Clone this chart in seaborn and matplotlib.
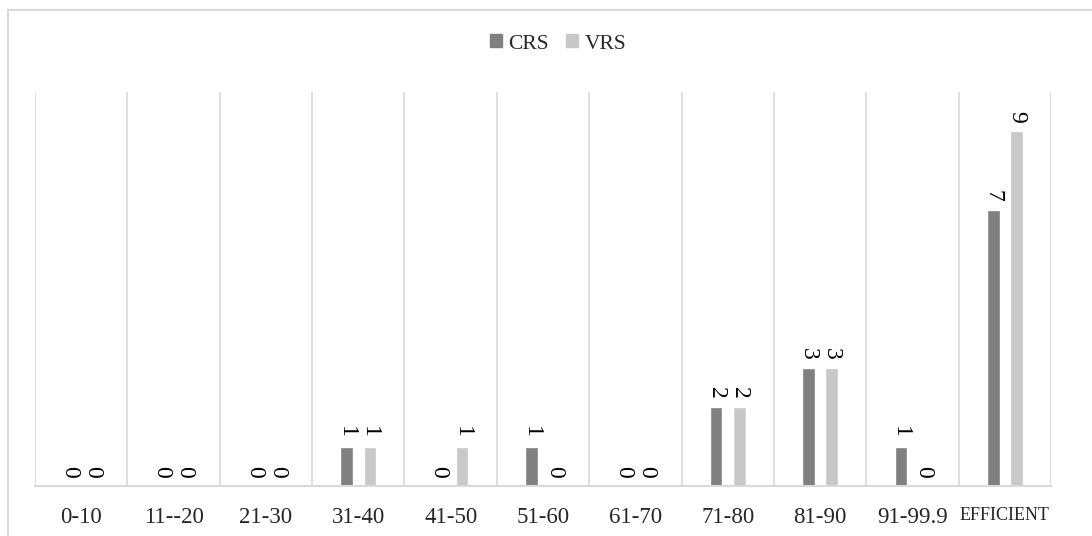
import seaborn as sns
import pandas as pd
import matplotlib.pyplot as plt
from matplotlib.patches import Rectangle, Patch

categories = ["0-10", "11--20", "21-30", "31-40", "41-50", "51-60",
              "61-70", "71-80", "81-90", "91-99.9", "EFFICIENT"]
crs = [0, 0, 0, 1, 0, 1, 0, 2, 3, 1, 7]
vrs = [0, 0, 0, 1, 1, 0, 0, 2, 3, 0, 9]

colors = {"CRS": "#808080", "VRS": "#c8c8c8"}
grid_color = "#d9d9d9"

df = pd.DataFrame({
    "range": categories * 2,
    "count": crs + vrs,
    "model": ["CRS"] * len(crs) + ["VRS"] * len(vrs),
})

sns.set_theme(style="white")
plt.rcParams["font.family"] = ["Liberation Serif", "DejaVu Serif"]

fig = plt.figure(figsize=(10.92, 5.36), dpi=100)
ax = fig.add_axes([35 / 1092, 50 / 536, (1051 - 35) / 1092, (486 - 92) / 536])

sns.barplot(ax=ax, data=df, x="range", y="count", hue="model", order=categories,
            palette=colors, width=0.5, gap=0.46, saturation=1, legend=False)

for cont in ax.containers:
    ax.bar_label(cont, rotation=270, padding=6, fontsize=17, color="black")

ax.set_ylim(0, 10)
ax.set_xlim(-0.5, len(categories) - 0.5)
ax.set_yticks([])
ax.set_xlabel("")
ax.set_ylabel("")

# vertical gridlines between categories
ax.set_xticks([i - 0.5 for i in range(len(categories) + 1)], minor=True)
ax.grid(False)
ax.grid(True, axis="x", which="minor", color=grid_color, linewidth=1.2)
ax.tick_params(axis="x", which="both", length=0, pad=15, labelsize=16.5)
for lbl in ax.get_xticklabels():
    if lbl.get_text() == "EFFICIENT":
        lbl.set_fontsize(13)

for side in ["top", "left", "right"]:
    ax.spines[side].set_visible(False)
ax.spines["bottom"].set_color(grid_color)
ax.spines["bottom"].set_linewidth(1.5)

handles = [Patch(color=colors[m], label=m) for m in ["CRS", "VRS"]]
fig.legend(handles=handles, loc="center", bbox_to_anchor=(558 / 1092, 1 - 44 / 536),
           ncol=2, frameon=False, fontsize=15.5, handlelength=0.55, handleheight=0.55,
           handletextpad=0.3, columnspacing=0.8)

# light chart border
fig.patches.append(Rectangle((8 / 1092, -0.05), 1.1, 1.05 - 10 / 536,
                             transform=fig.transFigure, fill=False,
                             edgecolor=grid_color, linewidth=1.5))

fig.savefig("out.png", dpi=100)
